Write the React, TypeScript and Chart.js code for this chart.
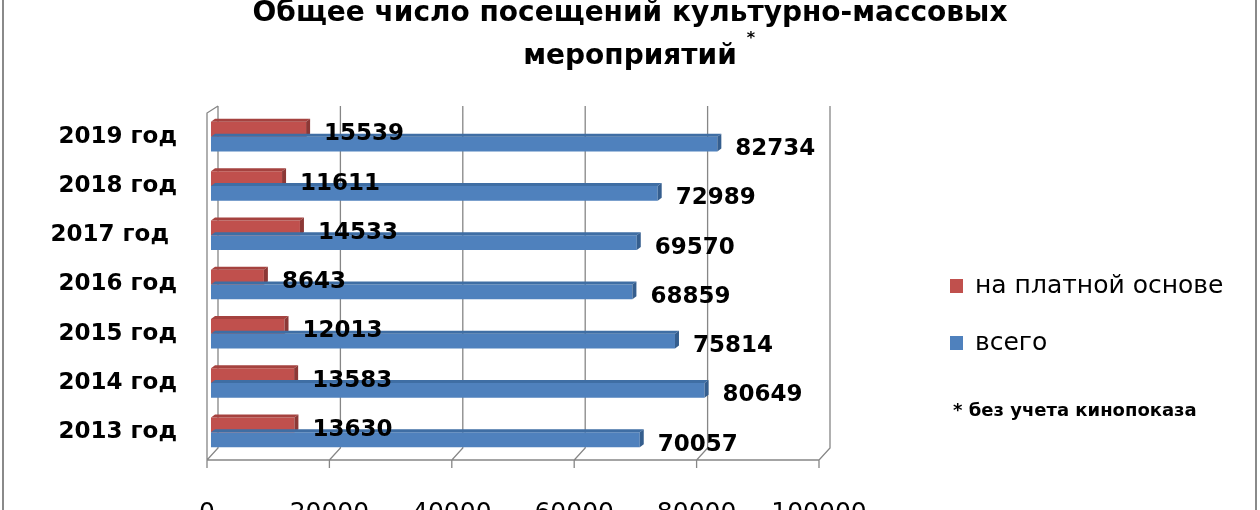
import { useEffect, useRef } from 'react'
import { Chart, registerables, Plugin } from 'chart.js'

Chart.register(...registerables)

// данные диаграммы
const years = ['2013 год', '2014 год', '2015 год', '2016 год', '2017 год ', '2018 год', '2019 год']
const paidVisits = [13630, 13583, 12013, 8643, 14533, 11611, 15539]
const totalVisits = [70057, 80649, 75814, 68859, 69570, 72989, 82734]
const seriesNames = ['на платной основе', 'всего']
const xMin = 0
const xMax = 100000
const xStep = 20000
const titleLines = ['Общее число посещений культурно-массовых', 'мероприятий']
const footnote = '* без учета кинопоказа'

const RED = '#C0504D'
const BLUE = '#4F81BD'
const RED_TOP = '#A5423F'
const RED_SIDE = '#8C3836'
const BLUE_TOP = '#3F6EA4'
const BLUE_SIDE = '#355E8E'
const GRID = '#868686'
const FONT = "'DejaVu Sans', sans-serif"

const CANVAS_H = 560
const TITLE_SIZE = 28
const TITLE_TOP = 6.5

// рамка диаграммы (левая и правая границы)
const framePlugin: Plugin<'bar'> = {
  id: 'frame',
  beforeDraw(chart) {
    const { ctx, width, height } = chart
    ctx.save()
    ctx.strokeStyle = '#8a8a8a'
    ctx.lineWidth = 2
    ctx.beginPath()
    ctx.moveTo(3, 0)
    ctx.lineTo(3, height)
    ctx.moveTo(width - 4, 0)
    ctx.lineTo(width - 4, height)
    ctx.stroke()
    ctx.restore()
  }
}

// псевдо-3D: задняя стенка, пол, сетка
const wallsPlugin: Plugin<'bar'> = {
  id: 'walls',
  beforeDatasetsDraw(chart) {
    const { ctx, chartArea } = chart
    const sx = chart.scales.x
    const frontY = chartArea.bottom + 3
    const backY = chartArea.bottom - 9
    const topBack = chartArea.top - 6
    const topFront = chartArea.top + 1
    ctx.save()
    ctx.strokeStyle = GRID
    ctx.lineWidth = 1.3
    ctx.beginPath()
    const ticks = sx.ticks.map((t) => sx.getPixelForValue(t.value))
    ticks.forEach((px) => {
      ctx.moveTo(px + 7, topBack)
      ctx.lineTo(px + 7, backY)
      ctx.lineTo(px - 4, frontY)
      ctx.lineTo(px - 4, frontY + 8)
    })
    const first = ticks[0]
    const last = ticks[ticks.length - 1]
    ctx.moveTo(first - 4, frontY)
    ctx.lineTo(last - 4, frontY)
    ctx.moveTo(first - 4, frontY)
    ctx.lineTo(first - 4, topFront)
    ctx.lineTo(first + 7, topBack)
    ctx.stroke()
    ctx.restore()
  }
}

// грани столбиков и подписи значений
const barsPlugin: Plugin<'bar'> = {
  id: 'bars3d',
  afterDatasetsDraw(chart) {
    const { ctx } = chart
    const dx = 4
    const dy = 3
    ctx.save()
    chart.data.datasets.forEach((ds, di) => {
      const meta = chart.getDatasetMeta(di)
      meta.data.forEach((el: any) => {
        const top = el.y - el.height / 2
        const bottom = el.y + el.height / 2
        ctx.fillStyle = di === 0 ? RED_TOP : BLUE_TOP
        ctx.beginPath()
        ctx.moveTo(el.base, top)
        ctx.lineTo(el.base + dx, top - dy)
        ctx.lineTo(el.x + dx, top - dy)
        ctx.lineTo(el.x, top)
        ctx.closePath()
        ctx.fill()
        ctx.fillStyle = di === 0 ? RED_SIDE : BLUE_SIDE
        ctx.beginPath()
        ctx.moveTo(el.x, top)
        ctx.lineTo(el.x + dx, top - dy)
        ctx.lineTo(el.x + dx, bottom - dy)
        ctx.lineTo(el.x, bottom)
        ctx.closePath()
        ctx.fill()
      })
    })
    ctx.font = `bold 23px ${FONT}`
    ctx.fillStyle = '#000'
    ctx.textAlign = 'left'
    ctx.textBaseline = 'middle'
    chart.data.datasets.forEach((ds, di) => {
      const meta = chart.getDatasetMeta(di)
      meta.data.forEach((el: any, i) => {
        ctx.fillText(String(ds.data[i]), el.x + 18, el.y + 5)
      })
    })
    ctx.restore()
  }
}

// легенда, сноска и звёздочка в заголовке
const legendPlugin: Plugin<'bar'> = {
  id: 'sideLegend',
  afterDraw(chart) {
    const { ctx, chartArea } = chart
    const x0 = chartArea.right + 127
    ctx.save()
    ctx.textAlign = 'left'
    ctx.textBaseline = 'middle'
    chart.data.datasets.forEach((ds, i) => {
      const y = chartArea.top + 174 + i * 57
      ctx.fillStyle = ds.backgroundColor as string
      ctx.fillRect(x0, y - 7, 13, 14)
      ctx.font = `25px ${FONT}`
      ctx.fillStyle = '#000'
      ctx.fillText(ds.label ?? '', x0 + 25, y)
    })
    ctx.font = `bold 18px ${FONT}`
    ctx.fillText(footnote, x0 + 3, chartArea.top + 299)

    const tb = (chart as any).titleBlock
    if (tb) {
      ctx.font = `bold ${TITLE_SIZE}px ${FONT}`
      const w = ctx.measureText(titleLines[1]).width
      const cx = (tb.left + tb.right) / 2
      ctx.font = `bold 16px ${FONT}`
      ctx.fillText('*', cx + w / 2 + 10, tb.top + TITLE_TOP + 43 * 1.5 - 18)
    }
    ctx.restore()
  }
}

export default function App() {
  const canvasRef = useRef<HTMLCanvasElement>(null)
  const chartRef = useRef<Chart<'bar'> | null>(null)

  useEffect(() => {
    if (!canvasRef.current) return
    if (chartRef.current) {
      chartRef.current.destroy()
      chartRef.current = null
    }

    chartRef.current = new Chart(canvasRef.current, {
      type: 'bar',
      data: {
        labels: years,
        datasets: [
          {
            label: seriesNames[0],
            data: paidVisits,
            backgroundColor: RED,
            borderWidth: 0
          },
          {
            label: seriesNames[1],
            data: totalVisits,
            backgroundColor: BLUE,
            borderWidth: 0
          }
        ]
      },
      options: {
        indexAxis: 'y',
        animation: false,
        responsive: true,
        maintainAspectRatio: false,
        categoryPercentage: 0.6,
        barPercentage: 1,
        layout: {
          padding: 0
        },
        scales: {
          x: {
            min: xMin,
            max: xMax,
            grid: { display: false, drawTicks: false },
            border: { display: false },
            ticks: {
              stepSize: xStep,
              padding: 41,
              labelOffset: -4,
              color: '#000',
              font: { family: FONT, size: 25 },
              callback: (value) => String(value)
            },
            afterFit: (scale) => {
              scale.height = CANVAS_H - 471
            }
          },
          y: {
            reverse: true,
            grid: { display: false, drawTicks: false },
            border: { display: false },
            ticks: {
              padding: 34,
              color: '#000',
              font: { family: FONT, size: 23, weight: 'bold' }
            },
            afterFit: (scale) => {
              scale.width = 211
            }
          },
          // пустая правая ось — место под легенду
          side: {
            type: 'category',
            position: 'right',
            grid: { display: false, drawTicks: false },
            border: { display: false },
            ticks: { display: false },
            afterFit: (scale) => {
              scale.width = 437
            }
          }
        },
        plugins: {
          legend: { display: false },
          tooltip: { enabled: false },
          title: {
            display: true,
            text: titleLines,
            color: '#000',
            font: { family: FONT, size: TITLE_SIZE, weight: 'bold', lineHeight: 43 / TITLE_SIZE },
            padding: { top: TITLE_TOP, bottom: 40 - TITLE_TOP }
          }
        }
      },
      plugins: [framePlugin, wallsPlugin, barsPlugin, legendPlugin]
    })

    return () => {
      if (chartRef.current) {
        chartRef.current.destroy()
        chartRef.current = null
      }
    }
  }, [])

  return (
    <div style={{ position: 'fixed', left: 0, top: -14, width: 1260, height: CANVAS_H, background: '#fff' }}>
      <canvas ref={canvasRef} />
    </div>
  )
}
